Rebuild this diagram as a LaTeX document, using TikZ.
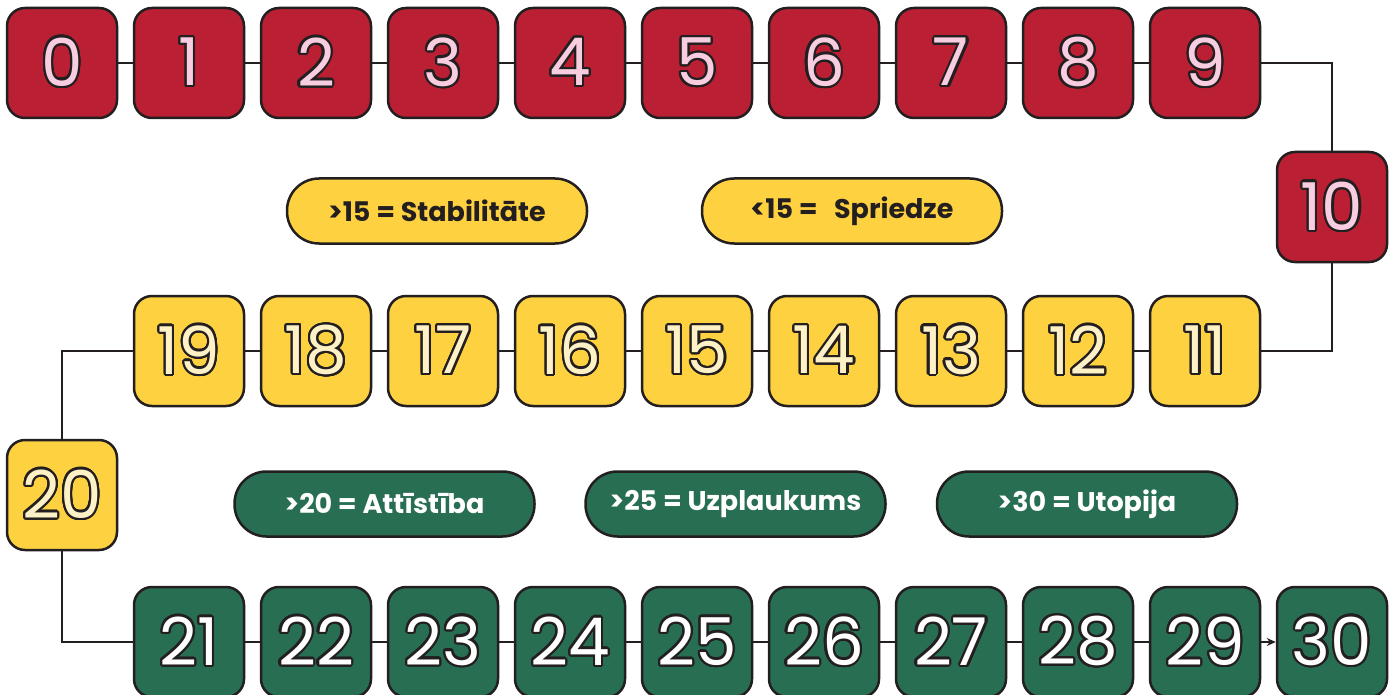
\documentclass[tikz,border=0pt]{standalone}
\usepackage{fontspec}
\setmainfont{Poppins}
\usepackage{contour}
\contourlength{2.2pt}
\contournumber{24}
\usetikzlibrary{arrows.meta}
\definecolor{cred}{HTML}{BA1F33}
\definecolor{cpink}{HTML}{F9CDE0}
\definecolor{cyel}{HTML}{FED141}
\definecolor{clyel}{HTML}{FFF1C6}
\definecolor{cgreen}{HTML}{276E53}
\definecolor{cdark}{HTML}{231F20}
\tikzset{
  numbox/.style={draw=cdark, line width=2.5pt, rounded corners=18pt, minimum width=110pt, minimum height=110pt, inner sep=0pt, font=\fontsize{66}{66}\selectfont},
  redbox/.style={numbox, fill=cred, text=cpink},
  yelbox/.style={numbox, fill=cyel, text=clyel},
  grnbox/.style={numbox, fill=cgreen, text=white},
  pill/.style={draw=cdark, line width=2.5pt, rounded corners=32pt, minimum width=300pt, minimum height=65pt, inner sep=0pt, font=\fontsize{27}{27}\selectfont\bfseries},
  yelpill/.style={pill, fill=cyel, text=cdark},
  grnpill/.style={pill, fill=cgreen, text=white},
  conn/.style={draw=cdark, line width=2.5pt}
}
\newcommand{\dg}[1]{\contour{cdark}{#1}}
\begin{document}
\begin{tikzpicture}[x=1pt,y=-1pt]
\useasboundingbox (0,0) rectangle (1396,695);
% row 1
\foreach \i in {0,...,9} {
  \node[redbox] (n\i) at ({62+127*\i},63) {\dg{\i}};
}
\node[redbox] (n10) at (1332,207) {\dg{10}};
% row 2
\foreach \i in {11,...,19} {
  \node[yelbox] (n\i) at ({1205-127*(\i-11)},351) {\dg{\i}};
}
\node[yelbox] (n20) at (62,495) {\dg{20}};
% row 4
\foreach \i in {21,...,29} {
  \node[grnbox] (n\i) at ({189+127*(\i-21)},642) {\dg{\i}};
}
\node[grnbox] (n30) at (1332,642) {\dg{30}};
% pills
\node[yelpill] (p15a) at (437,211) {>15 = Stabilitāte};
\node[yelpill] (p15b) at (852,211) {<15 =\hspace{0.4em} Spriedze};
\node[grnpill] (p20) at (384.5,504) {>20 = Attīstība};
\node[grnpill] (p25) at (735.5,504) {>25 = Uzplaukums};
\node[grnpill] (p30) at (1087,504) {>30 = Utopija};
% connectors
\foreach \a/\b in {0/1,1/2,2/3,3/4,4/5,5/6,6/7,7/8,8/9,11/12,12/13,13/14,14/15,15/16,16/17,17/18,18/19,21/22,22/23,23/24,24/25,25/26,26/27,27/28,28/29} {
  \draw[conn] (n\a) -- (n\b);
}
\draw[conn] (n9.east) -| (n10.north);
\draw[conn] (n10.south) |- (n11.east);
\draw[conn] (n19.west) -| (n20.north);
\draw[conn] (n20.south) |- (n21.west);
\draw[conn, -{Stealth[length=9pt,width=8pt]}] (n29) -- (n30);
\end{tikzpicture}
\end{document}
